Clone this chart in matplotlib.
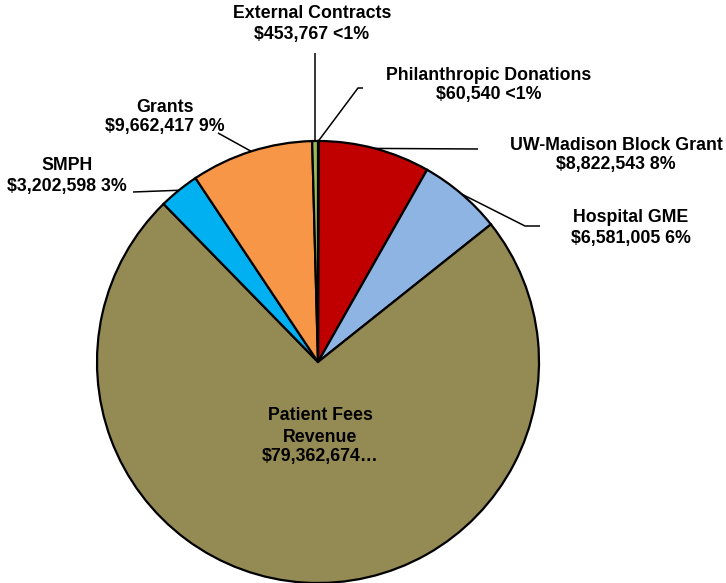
import numpy as np
import matplotlib
matplotlib.use("Agg")
import matplotlib.pyplot as plt

# data, clockwise from 12 o'clock
names = ["Philanthropic Donations", "UW-Madison Block Grant", "Hospital GME",
         "Patient Fees Revenue", "SMPH", "Grants", "External Contracts"]
values = [60540, 8822543, 6581005, 79362674, 3202598, 9662417, 453767]
colors = ["#8064A2", "#C00000", "#8EB4E3", "#948A54", "#00B0F0", "#F79646", "#9BBB59"]

W, H = 726, 583
CX, CY, R = 318, 362, 221  # pie centre / radius in pixels (y from top)

plt.rcParams["font.family"] = ["Liberation Sans", "DejaVu Sans"]
FS = 12.8


def Y(y):
    return H - y


def label_text(name, v, total):
    p = v / total * 100
    pct = "<1%" if p < 1 else f"{round(p)}%"
    return name, f"${v:,} {pct}"


fig = plt.figure(figsize=(W / 100, H / 100), dpi=100)
ax = fig.add_axes([0, 0, 1, 1])
wedges, _ = ax.pie(values, colors=colors, startangle=90, counterclock=False,
                   center=(CX, Y(CY)), radius=R,
                   wedgeprops=dict(edgecolor="black", linewidth=1.6))
ax.set_xlim(0, W)
ax.set_ylim(0, H)
ax.set_aspect("equal")
ax.axis("off")

total = sum(values)

# label layout: text centre x, line y's, leader path (pixels, after the pie edge point)
layout = {
    "Philanthropic Donations": (489, [75, 94], [(358, 88), (363, 88)]),
    "UW-Madison Block Grant": (616, [145, 165], [(478, 149)]),
    "Hospital GME": (631, [218, 238], [(525, 226), (540, 226)]),
    "SMPH": (67, [165, 186], [(133, 192)]),
    "Grants": (165, [107, 127], [(218, 133)]),
    "External Contracts": (312, [14, 35], [None]),
}

for w, name, v in zip(wedges, names, values):
    if name not in layout:
        continue
    tx, ys, path = layout[name]
    mid = np.deg2rad((w.theta1 + w.theta2) / 2)
    ex, ey = CX + R * np.cos(mid), Y(CY) + R * np.sin(mid)
    xs, yy = [ex], [ey]
    for pt in path:
        if pt is None:
            xs.append(ex); yy.append(Y(53))
        else:
            xs.append(pt[0]); yy.append(Y(pt[1]))
    ax.plot(xs, yy, color="black", lw=1.1, solid_capstyle="butt")
    l1, l2 = label_text(name, v, total)
    ax.text(tx, Y(ys[0]), l1, ha="center", va="center", fontsize=FS, fontweight="bold")
    ax.text(tx, Y(ys[1]), l2, ha="center", va="center", fontsize=FS, fontweight="bold")

# big slice: label inside, truncated like the original
ax.text(320, Y(416), "Patient Fees", ha="center", va="center", fontsize=FS, fontweight="bold")
ax.text(320, Y(437), "Revenue", ha="center", va="center", fontsize=FS, fontweight="bold")
ax.text(320, Y(457), f"${values[3]:,}\u2026", ha="center", va="center", fontsize=FS, fontweight="bold")

fig.savefig("out.png", dpi=100)
